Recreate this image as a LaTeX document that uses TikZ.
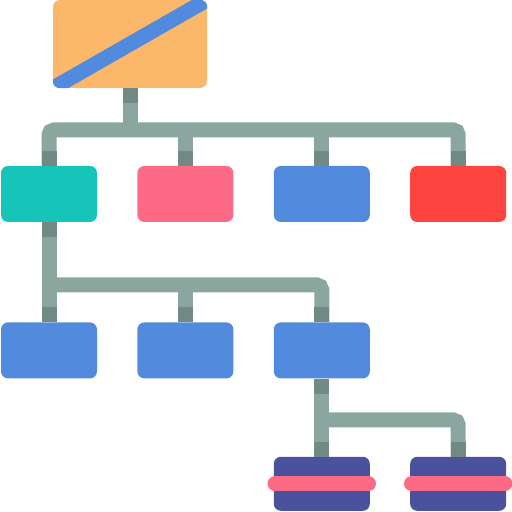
\documentclass[tikz,border=0pt]{standalone}
\usepackage{tikz}
\usetikzlibrary{positioning}

\definecolor{rootorange}{RGB}{251,183,106}
\definecolor{boxblue}{RGB}{82,138,222}
\definecolor{boxteal}{RGB}{22,196,186}
\definecolor{boxpink}{RGB}{253,106,133}
\definecolor{boxred}{RGB}{254,68,63}
\definecolor{boxnavy}{RGB}{74,82,158}
\definecolor{pipelight}{RGB}{139,166,159}
\definecolor{pipedark}{RGB}{114,137,133}

\begin{document}
\begin{tikzpicture}[x=1pt, y=1pt,
      box/.style={rectangle, rounded corners=7pt, inner sep=0pt, minimum width=96pt, minimum height=56pt},
      flat/.style={box, minimum height=54pt, fill=boxnavy},
      pipe/.style={line width=15pt, draw=pipelight, rounded corners=5pt},
      stub/.style={line width=15pt, draw=pipedark},
      band/.style={line width=15pt, line cap=round}
      ]
      \useasboundingbox (0,0) rectangle (512,512);

      % Nodes
      \node[box, fill=rootorange, minimum width=154pt, minimum height=88pt] (root) at (130,468) {};

      \node[box, fill=boxteal] (t1) at (49,318) {};
      \node[box, fill=boxpink, right=40pt of t1] (t2) {};
      \node[box, fill=boxblue, right=40pt of t2] (t3) {};
      \node[box, fill=boxred, right=40pt of t3] (t4) {};

      \node[box, fill=boxblue, below=100pt of t1] (m1) {};
      \node[box, fill=boxblue, right=40pt of m1] (m2) {};
      \node[box, fill=boxblue, right=40pt of m2] (m3) {};

      \node[flat, below=78pt of m3] (b1) {};
      \node[flat, right=40pt of b1] (b2) {};

      \coordinate (bus1) at (250,382);
      \coordinate (bus2) at (200,227);
      \coordinate (bus3) at (400,92);

      % Stripes
      \begin{scope}
        \clip[rounded corners=7pt] (root.south west) rectangle (root.north east);
        \draw[line width=15pt, boxblue] (root.south west) -- (root.north east);
      \end{scope}
      \draw[band, boxpink] ([xshift=1.5pt]b1.west) -- ([xshift=-1.5pt]b1.east);
      \draw[band, boxpink] ([xshift=1.5pt]b2.west) -- ([xshift=-1.5pt]b2.east);

      % Pipes
      \draw[pipe] (root.south) -- (root.south |- bus1);
      \draw[pipe] (t1.north) |- (bus1) -| (t4.north);
      \draw[pipe] (t2.north) -- (t2.north |- bus1);
      \draw[pipe] (t3.north) -- (t3.north |- bus1);

      \draw[pipe] (t1.south) -- (m1.north);
      \draw[pipe] (m1.north |- bus2) -| (m3.north);
      \draw[pipe] (m2.north) -- (m2.north |- bus2);

      \draw[pipe] (m3.south) -- (b1.north);
      \draw[pipe] (m3.south |- bus3) -| (b2.north);

      % Joints
      \draw[stub] (root.south) -- ++(0,-15);
      \foreach \n in {t1,t2,t3,t4,m1,m2,m3,b1,b2}
        \draw[stub] (\n.north) -- ++(0,15);
      \draw[stub] (t1.south) -- ++(0,-15);
      \draw[stub] (m3.south) -- ++(0,-15);

    \end{tikzpicture}
\end{document}
